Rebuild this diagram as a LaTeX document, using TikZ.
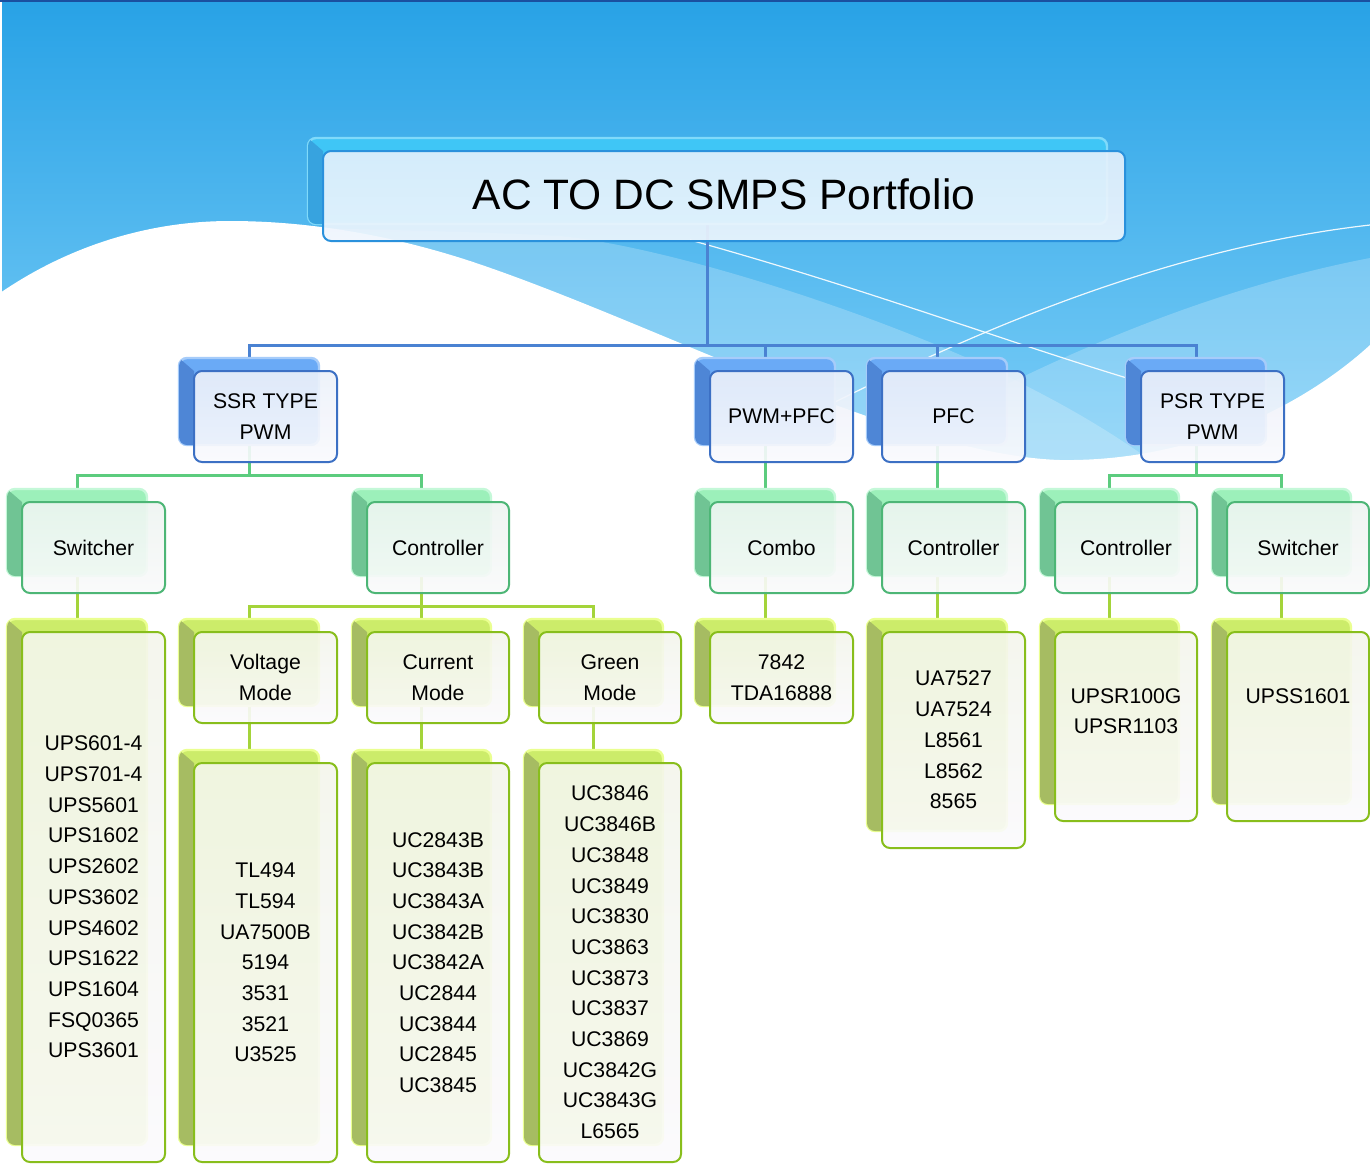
\documentclass[tikz,border=0pt]{standalone}
\usepackage{fontspec}
\setmainfont{Liberation Sans}
\usetikzlibrary{fit}
\pgfdeclarelayer{bg}
\pgfdeclarelayer{lines}
\pgfsetlayers{bg,lines,main}

\definecolor{bgtop}{HTML}{28A2E6}
\definecolor{bgbot}{HTML}{80D0F8}
\definecolor{topline}{HTML}{1A4FA0}
\definecolor{conblue}{HTML}{4A82D2}
\definecolor{congreen}{HTML}{5CCC7E}
\definecolor{conyellow}{HTML}{A4D43A}
% title scheme
\definecolor{tiback}{HTML}{3FC6F6}
\definecolor{tiside}{HTML}{37A3DF}
\definecolor{tiglow}{HTML}{80DAFA}
\definecolor{tiline}{HTML}{2A91DC}
\definecolor{tiftop}{HTML}{E5F1FC}
\definecolor{tifbot}{HTML}{F0F6FD}
% blue scheme
\definecolor{buback}{HTML}{6AAAF6}
\definecolor{buside}{HTML}{4E86D6}
\definecolor{buglow}{HTML}{A6CCFA}
\definecolor{buline}{HTML}{3C70C4}
\definecolor{buftop}{HTML}{ECF1FA}
\definecolor{bufbot}{HTML}{FAFAFD}
% green scheme
\definecolor{grback}{HTML}{9CF0BA}
\definecolor{grside}{HTML}{70C494}
\definecolor{grglow}{HTML}{C4F8D8}
\definecolor{grline}{HTML}{4DB676}
\definecolor{grftop}{HTML}{EEF5F1}
\definecolor{grfbot}{HTML}{FAFAFB}
% yellow-green scheme
\definecolor{yeback}{HTML}{CCEC6A}
\definecolor{yeside}{HTML}{A6BC62}
\definecolor{yeglow}{HTML}{EAFF90}
\definecolor{yeline}{HTML}{88BE1C}
\definecolor{yeftop}{HTML}{F4F6EC}
\definecolor{yefbot}{HTML}{FBFAFD}

\newcommand\lbl{\fontsize{10.6pt}{15.35pt}\selectfont}
\newcommand\tshift{0pt}

% #1 name, #2 left, #3 top, #4 right, #5 bottom (front box, px), #6 scheme, #7 text
\newcommand\card[7]{%
  \pgfmathsetmacro\bkl{#2-15}%
  \pgfmathsetmacro\bkt{#3-13}%
  \pgfmathsetmacro\bkr{#4-18}%
  \pgfmathsetmacro\bkb{#5-17}%
  \node[backbox=#6, fit={(\bkl,\bkt) (\bkr,\bkb)}] (#1B) {};
  \begin{scope}
    \clip[rounded corners=4pt] (\bkl,\bkt) rectangle (\bkr,\bkb);
    \fill[#6side] (\bkl,\bkt) -- (#2,#3) -- (#2,\bkb) -- (\bkl,\bkb) -- cycle;
  \end{scope}
  \node[frontbox=#6, fit={(#2,#3) (#4,#5)}] (#1) {};
  \node[cardtext] (#1T) at ([yshift=\tshift]#1.center) {#7};
}

\begin{document}
\begin{tikzpicture}[x=0.5pt, y=-0.5pt,
  backbox/.style={inner sep=0pt, rounded corners=4pt, fill=#1back, draw=#1glow, line width=1.2pt},
  frontbox/.style={inner sep=0pt, rounded corners=4pt, draw=#1line, line width=1pt,
     top color=#1ftop, bottom color=#1fbot, fill opacity=0.9, draw opacity=1},
  cardtext/.style={inner sep=0pt, align=center, font=\lbl, text=black},
  bl/.style={draw=conblue, line width=1.5pt},
  gl/.style={draw=congreen, line width=1.5pt},
  yl/.style={draw=conyellow, line width=1.5pt}]
\useasboundingbox (0,0) rectangle (1370,1164);

\begin{pgfonlayer}{bg}
  \fill[white] (0,0) rectangle (1370,1164);
  \shade[top color=bgtop, bottom color=bgbot] (2,0) rectangle (1370,480);
  \fill[white, fill opacity=0.22] (300,228) .. controls (400,230) and (480,232) .. (560,236)
     .. controls (650,245) and (800,290) .. (917,337)
     .. controls (1000,370) and (1080,410) .. (1150,460) -- (1150,700) -- (300,700) -- cycle;
  \fill[white, fill opacity=0.22] (850,470) .. controls (950,410) and (1150,300) .. (1370,258)
     -- (1370,700) -- (850,700) -- cycle;
  \fill[white] (0,293) .. controls (70,245) and (150,221) .. (230,221)
     .. controls (300,221) and (380,232) .. (467,260)
     .. controls (650,320) and (900,455) .. (1060,460)
     .. controls (1200,462) and (1310,400) .. (1370,345)
     -- (1370,1164) -- (0,1164) -- cycle;
  \draw[white, line width=0.6pt, opacity=0.9] (690,240) .. controls (870,290) and (1000,340) .. (1140,382);
  \draw[white, line width=0.6pt, opacity=0.9] (833,403) .. controls (950,345) and (1150,250) .. (1370,225);
  \fill[topline] (0,0) rectangle (1370,2);
\end{pgfonlayer}

% level 0
\renewcommand\tshift{1pt}
\card{title}{323}{151}{1125}{241}{ti}{\fontsize{21.25pt}{25pt}\selectfont AC TO DC SMPS Portfolio}
\renewcommand\tshift{0pt}
% level 1
\card{ssr}{194}{371}{337}{462}{bu}{SSR TYPE\\PWM}
\card{pwm}{710}{371}{853}{462}{bu}{PWM+PFC}
\card{pfc}{882}{371}{1025}{462}{bu}{PFC}
\card{psr}{1141}{371}{1284}{462}{bu}{PSR TYPE\\PWM}
% level 2
\card{swa}{22}{502}{165}{593}{gr}{Switcher}
\card{cta}{367}{502}{509}{593}{gr}{Controller}
\card{cmb}{710}{502}{853}{593}{gr}{Combo}
\card{ctb}{882}{502}{1025}{593}{gr}{Controller}
\card{ctc}{1055}{502}{1197}{593}{gr}{Controller}
\card{swb}{1227}{502}{1369}{593}{gr}{Switcher}
% level 3
\card{lsa}{22}{632}{165}{1162}{ye}{UPS601-4\\UPS701-4\\UPS5601\\UPS1602\\UPS2602\\UPS3602\\UPS4602\\UPS1622\\UPS1604\\FSQ0365\\UPS3601}
\card{vm}{194}{632}{337}{723}{ye}{Voltage\\Mode}
\card{cm}{367}{632}{509}{723}{ye}{Current\\Mode}
\card{gm}{539}{632}{681}{723}{ye}{Green\\Mode}
\card{lcb}{710}{632}{853}{723}{ye}{7842\\TDA16888}
\card{lpf}{882}{632}{1025}{848}{ye}{UA7527\\UA7524\\L8561\\L8562\\8565}
\card{lpr}{1055}{632}{1197}{821}{ye}{UPSR100G\\UPSR1103\\\mbox{}}
\card{lps}{1227}{632}{1369}{821}{ye}{UPSS1601\\\mbox{}\\\mbox{}}
% level 4
\card{lvm}{194}{763}{337}{1162}{ye}{TL494\\TL594\\UA7500B\\5194\\3531\\3521\\U3525}
\card{lcm}{367}{763}{509}{1162}{ye}{UC2843B\\UC3843B\\UC3843A\\UC3842B\\UC3842A\\UC2844\\UC3844\\UC2845\\UC3845}
\card{lgm}{539}{763}{681}{1162}{ye}{UC3846\\UC3846B\\UC3848\\UC3849\\UC3830\\UC3863\\UC3873\\UC3837\\UC3869\\UC3842G\\UC3843G\\L6565}

\begin{pgfonlayer}{lines}
  % blue
  \draw[bl] (titleB.south) -- (titleB.south |- 0,345) coordinate (jt);
  \draw[bl] (ssrB.north) |- (jt) -| (psrB.north);
  \draw[bl] (pwmB.north) -- (pwmB.north |- jt);
  \draw[bl] (pfcB.north) -- (pfcB.north |- jt);
  % green
  \draw[gl] (ssrB.south) -- (ssrB.south |- 0,475) coordinate (js);
  \draw[gl] (swaB.north) |- (js) -| (ctaB.north);
  \draw[gl] (pwmB.south) -- (cmbB.north);
  \draw[gl] (pfcB.south) -- (ctbB.north);
  \draw[gl] (psrB.south) -- (psrB.south |- 0,475) coordinate (jp);
  \draw[gl] (ctcB.north) |- (jp) -| (swbB.north);
  % yellow-green
  \draw[yl] (swaB.south) -- (lsaB.north);
  \draw[yl] (ctaB.south) -- (ctaB.south |- 0,606) coordinate (jc);
  \draw[yl] (vmB.north) |- (jc) -| (gmB.north);
  \draw[yl] (cmB.north) -- (jc);
  \draw[yl] (cmbB.south) -- (lcbB.north);
  \draw[yl] (ctbB.south) -- (lpfB.north);
  \draw[yl] (ctcB.south) -- (lprB.north);
  \draw[yl] (swbB.south) -- (lpsB.north);
  \draw[yl] (vmB.south) -- (lvmB.north);
  \draw[yl] (cmB.south) -- (lcmB.north);
  \draw[yl] (gmB.south) -- (lgmB.north);
\end{pgfonlayer}
\end{tikzpicture}
\end{document}
